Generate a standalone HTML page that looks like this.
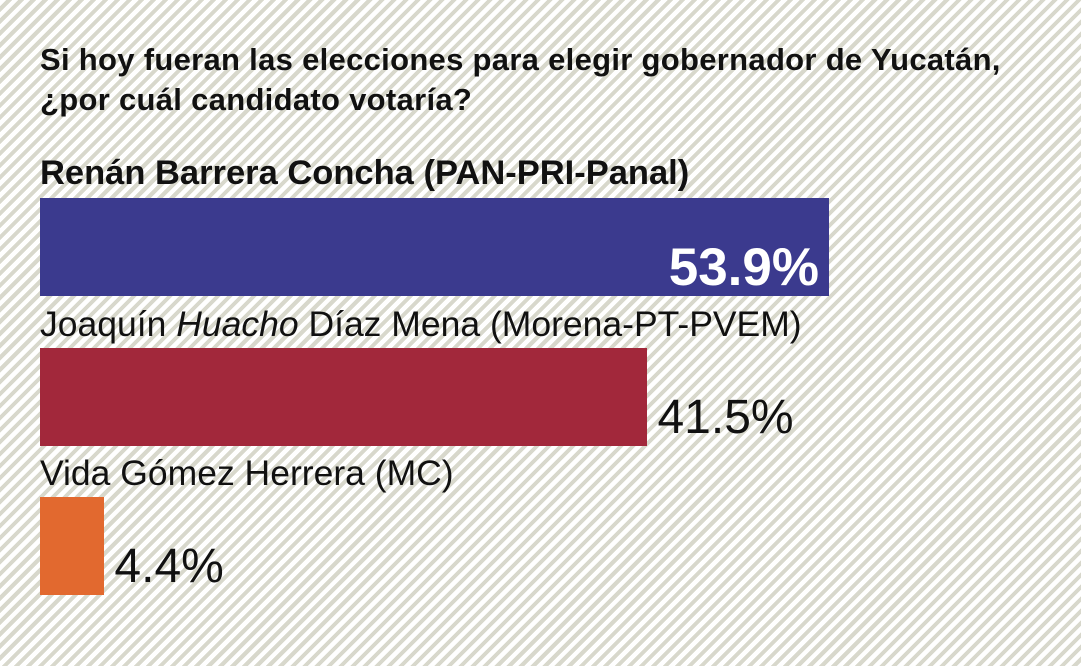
<!DOCTYPE html>
<html><head><meta charset="utf-8"><style>
body{margin:0;width:1081px;height:666px;overflow:hidden;font-family:"Liberation Sans",sans-serif;
background:repeating-linear-gradient(135deg,#ffffff 0 4.5px,#d8d8cc 4.5px 8.5px);}
.t{position:absolute;left:40px;font-weight:bold;font-size:31px;color:#111;white-space:nowrap;letter-spacing:0.3px;}
.n{position:absolute;left:40px;font-size:35px;color:#111;white-space:nowrap;}
</style></head><body>
<div class="t" style="top:42px;">Si hoy fueran las elecciones para elegir gobernador de Yucatán,</div>
<div class="t" style="top:82px;">¿por cuál candidato votaría?</div>
<div id="chart"></div>
<script>
const categories=["Renán Barrera Concha (PAN-PRI-Panal)","Joaquín <i>Huacho</i> Díaz Mena (Morena-PT-PVEM)","Vida Gómez Herrera (MC)"];
const values=[53.9,41.5,4.4];
const colors=["#3b3a8e","#a2283b","#e2692f"];
const x0=40, scale=(829-40)/53.9;
const xs=v=>v*scale;
const c=document.getElementById('chart');
values.forEach((v,i)=>{
  const top=198+i*149.5;
  const lab=document.createElement('div');
  lab.className='n';
  lab.style.top=(top-44)+'px';
  if(i===0){lab.style.fontWeight='bold';lab.style.fontSize='34.5px';}
  else{lab.style.fontSize='35.5px';}
  lab.innerHTML=categories[i];
  
  
  c.appendChild(lab);
  const b=document.createElement('div');
  const w=xs(v);
  b.style.cssText=`position:absolute;left:${x0}px;top:${top}px;width:${w}px;height:98px;background:${colors[i]};`;
  
  
  c.appendChild(b);
  const t=document.createElement('div');
  t.textContent=v.toFixed(1)+'%';
  if(i===0){
    t.style.cssText=`position:absolute;right:${1081-(x0+w)+10}px;top:${top+42}px;font-size:53px;font-weight:bold;color:#fff;line-height:56px;`;
  }else{
    t.style.cssText=`position:absolute;left:${x0+w+10}px;top:${top+44}px;font-size:48px;color:#111;line-height:52px;`;
  }
  
  
  c.appendChild(t);
});
</script>
</body></html>
